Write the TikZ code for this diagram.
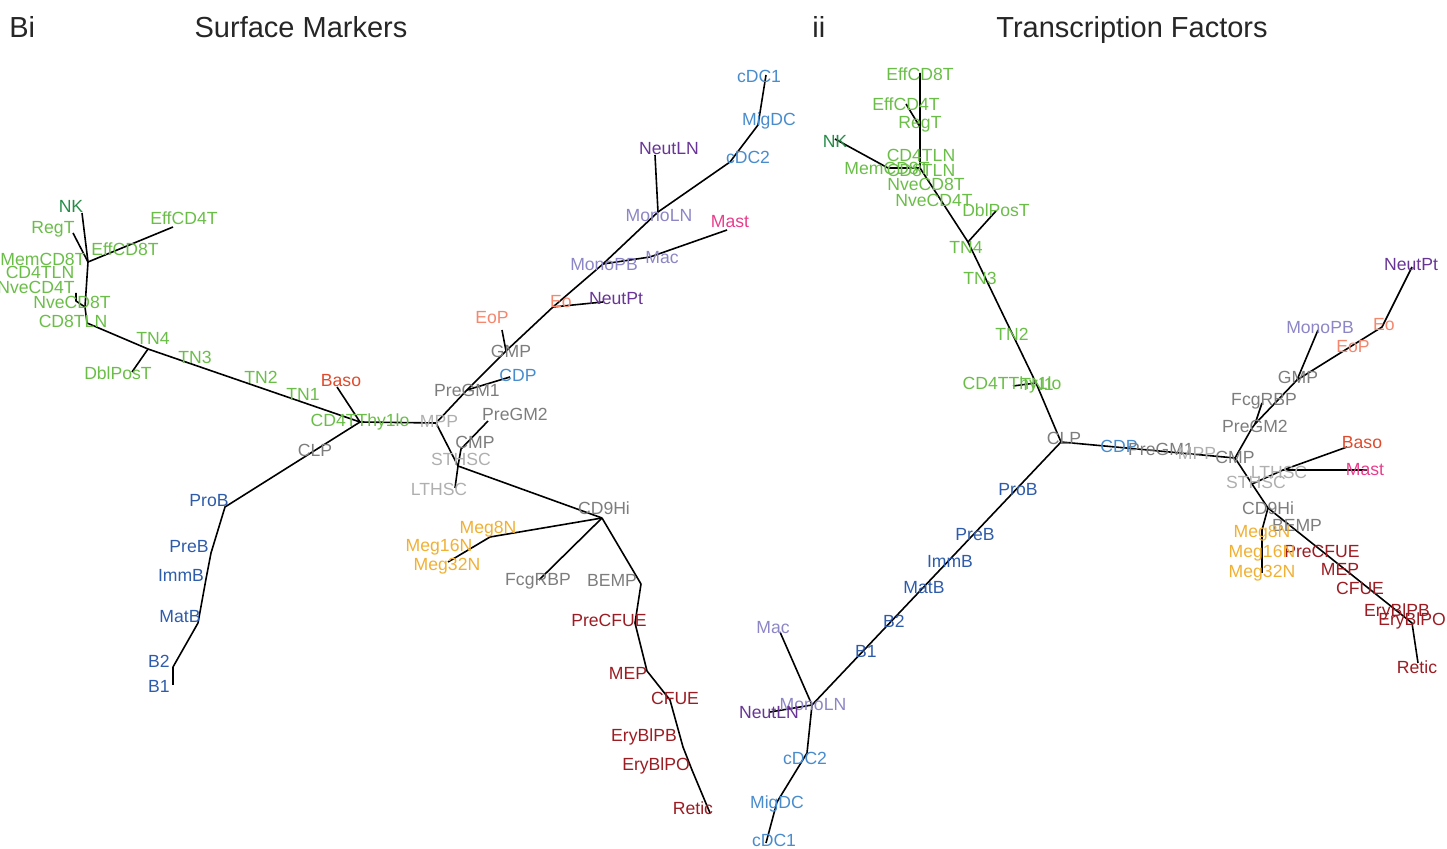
\documentclass[tikz,border=0pt]{standalone}
\usepackage{fontspec}
\setmainfont{Liberation Sans}
\definecolor{tgreen}{RGB}{106,190,72}
\definecolor{nkgreen}{RGB}{38,140,72}
\definecolor{bblue}{RGB}{46,92,170}
\definecolor{dcblue}{RGB}{72,140,205}
\definecolor{npurple}{RGB}{104,52,150}
\definecolor{mlav}{RGB}{140,134,198}
\definecolor{mastpink}{RGB}{232,62,140}
\definecolor{eosal}{RGB}{244,135,110}
\definecolor{basored}{RGB}{224,74,44}
\definecolor{pgray}{RGB}{125,125,125}
\definecolor{hgray}{RGB}{175,175,175}
\definecolor{megor}{RGB}{240,176,52}
\definecolor{eryred}{RGB}{155,28,34}
\begin{document}
\begin{tikzpicture}[x=0.5pt,y=-0.5pt,
  lbl/.style={inner sep=0pt, font=\fontsize{8.8}{10}\selectfont},
  ttl/.style={inner sep=0pt, font=\fontsize{14.5}{16}\selectfont, text=black!85},
  edge/.style={line width=0.8pt, black, line join=round}]
\useasboundingbox (0,0) rectangle (1447,849);

% ---------- titles ----------
\node[ttl, anchor=base west] (tBi) at (9,38) {Bi};
\node[ttl, anchor=base] (tSM) at (301,38) {Surface Markers};
\node[ttl, anchor=base west] (tii) at (812,38) {ii};
\node[ttl, anchor=base] (tTF) at (1132,38) {Transcription Factors};

% ---------- left tree coordinates ----------
\coordinate (Lthy) at (360,422);
\coordinate (Lmpp) at (436,423);
\coordinate (Lst) at (458,466);
\coordinate (Llt) at (455,488);
\coordinate (Lcmp) at (461,449);
\coordinate (Lpgm2) at (488,421);
\coordinate (Lcd9) at (602,518);
\coordinate (Lmeg8) at (490,537);
\coordinate (Lmeg32) at (448,562);
\coordinate (Lfcg) at (539,580);
\coordinate (Lbemp) at (641,584);
\coordinate (Lprecfue) at (635,623);
\coordinate (Lmep) at (647,671);
\coordinate (Lcfue) at (670,700);
\coordinate (Lerypb) at (683,747);
\coordinate (Lerypo) at (692,770);
\coordinate (Lretic) at (710,813);
\coordinate (Lpgm1) at (467,390);
\coordinate (Lcdp) at (510,377);
\coordinate (Lgmp) at (506,351);
\coordinate (Leop) at (502,330);
\coordinate (Leo) at (553,307);
\coordinate (Lneutpt) at (603,302);
\coordinate (Lmonopb) at (603,264);
\coordinate (Lmac) at (650,257);
\coordinate (Lmast) at (727,230);
\coordinate (Lmonoln) at (658,212);
\coordinate (Lneutln) at (655,155);
\coordinate (Lcdc2) at (730,162);
\coordinate (Lmigdc) at (758,125);
\coordinate (Lcdc1) at (766,75);
\coordinate (Lcd8) at (87,323);
\coordinate (Ltn4) at (148,349);
\coordinate (Ldbl) at (132,372);
\coordinate (Lnve) at (85,307);
\coordinate (Lnve2) at (76,301);
\coordinate (Lnve3) at (76,293);
\coordinate (Ltop) at (88,262);
\coordinate (Leffcd4) at (173,227);
\coordinate (Lregt) at (73,233);
\coordinate (Lnk) at (82,213);
\coordinate (Lbaso) at (337,387);
\coordinate (Lprob) at (225,507);
\coordinate (Lpreb) at (211,553);
\coordinate (Limmb) at (206,579);
\coordinate (Lmatb) at (198,623);
\coordinate (Lb2) at (173,667);
\coordinate (Lb1) at (173,685);

% ---------- left tree edges ----------
\draw[edge] (Lthy) -- (Lmpp) -- (Lst) -- (Lcd9);
\draw[edge] (Lst) -- (Llt);
\draw[edge] (Lst) -- (Lcmp) -- (Lpgm2);
\draw[edge] (Lcd9) -- (Lmeg8) -- (Lmeg32);
\draw[edge] (Lcd9) -- (Lfcg);
\draw[edge] (Lcd9) -- (Lbemp) -- (Lprecfue) -- (Lmep) -- (Lcfue) -- (Lerypb) -- (Lerypo) -- (Lretic);
\draw[edge] (Lmpp) -- (Lpgm1) -- (Lgmp) -- (Leo) -- (Lmonopb) -- (Lmonoln) -- (Lcdc2) -- (Lmigdc) -- (Lcdc1);
\draw[edge] (Lpgm1) -- (Lcdp);
\draw[edge] (Lgmp) -- (Leop);
\draw[edge] (Leo) -- (Lneutpt);
\draw[edge] (Lmonopb) -- (Lmac) -- (Lmast);
\draw[edge] (Lmonoln) -- (Lneutln);
\draw[edge] (Lthy) -- (Lbaso);
\draw[edge] (Lthy) -- (Ltn4) -- (Lcd8) -- (Lnve) -- (Ltop);
\draw[edge] (Ltn4) -- (Ldbl);
\draw[edge] (Lnve) -- (Lnve2) -- (Lnve3);
\draw[edge] (Ltop) -- (Leffcd4);
\draw[edge] (Ltop) -- (Lregt);
\draw[edge] (Ltop) -- (Lnk);
\draw[edge] (Lthy) -- (Lprob) -- (Lpreb) -- (Limmb) -- (Lmatb) -- (Lb2) -- (Lb1);

% ---------- left tree labels ----------
\node[lbl, text=pgray] (lCD9Hi) at (604,508) {CD9Hi};
\node[lbl, text=megor] (lMeg8N) at (488,529) {Meg8N};
\node[lbl, text=megor] (lMeg16N) at (439,547) {Meg16N};
\node[lbl, text=megor] (lMeg32N) at (447,566) {Meg32N};
\node[lbl, text=pgray] (lFcgRBP) at (538,581) {FcgRBP};
\node[lbl, text=pgray] (lBEMP) at (612,580) {BEMP};
\node[lbl, text=eryred] (lPreCFUE) at (609,620) {PreCFUE};
\node[lbl, text=eryred] (lMEP) at (628,673) {MEP};
\node[lbl, text=eryred] (lCFUE) at (675,698) {CFUE};
\node[lbl, text=eryred] (lEryBlPB) at (644,737) {EryBlPB};
\node[lbl, text=eryred] (lEryBlPO) at (656,766) {EryBlPO};
\node[lbl, text=eryred] (lRetic) at (693,808) {Retic};
\node[lbl, text=hgray] (lLTHSC) at (439,489) {LTHSC};
\node[lbl, text=hgray] (lSTHSC) at (461,459) {STHSC};
\node[lbl, text=pgray] (lCMP) at (475,442) {CMP};
\node[lbl, text=pgray] (lPreGM2) at (515,414) {PreGM2};
\node[lbl, text=hgray] (lMPP) at (439,421) {MPP};
\node[lbl, text=pgray] (lPreGM1) at (467,390) {PreGM1};
\node[lbl, text=dcblue] (lCDP) at (518,375) {CDP};
\node[lbl, text=pgray] (lGMP) at (511,351) {GMP};
\node[lbl, text=eosal] (lEoP) at (492,318) {EoP};
\node[lbl, text=eosal] (lEo) at (561,302) {Eo};
\node[lbl, text=npurple] (lNeutPt) at (616,299) {NeutPt};
\node[lbl, text=mlav] (lMonoPB) at (604,265) {MonoPB};
\node[lbl, text=mlav] (lMac) at (662,258) {Mac};
\node[lbl, text=mastpink] (lMast) at (730,222) {Mast};
\node[lbl, text=mlav] (lMonoLN) at (659,216) {MonoLN};
\node[lbl, text=npurple] (lNeutLN) at (669,149) {NeutLN};
\node[lbl, text=dcblue] (lcDC2) at (748,157) {cDC2};
\node[lbl, text=dcblue] (lMigDC) at (769,121) {MigDC};
\node[lbl, text=dcblue] (lcDC1) at (759,76) {cDC1};
\node[lbl, text=basored] (lBaso) at (341,381) {Baso};
\node[lbl, text=tgreen] (lCD4TThy1lo) at (360,422) {CD4TThy1lo};
\node[lbl, text=pgray] (lCLP) at (315,450) {CLP};
\node[lbl, text=tgreen] (lTN1) at (303,394) {TN1};
\node[lbl, text=tgreen] (lTN2) at (261,377) {TN2};
\node[lbl, text=tgreen] (lTN3) at (195,357) {TN3};
\node[lbl, text=tgreen] (lTN4) at (153,338) {TN4};
\node[lbl, text=tgreen] (lDblPosT) at (118,373) {DblPosT};
\node[lbl, text=tgreen] (lCD8TLN) at (73,321) {CD8TLN};
\node[lbl, text=tgreen] (lNveCD8T) at (72,302) {NveCD8T};
\node[lbl, text=tgreen] (lNveCD4T) at (36,287) {NveCD4T};
\node[lbl, text=tgreen] (lCD4TLN) at (40,272) {CD4TLN};
\node[lbl, text=tgreen] (lMemCD8T) at (43,259) {MemCD8T};
\node[lbl, text=tgreen] (lEffCD8T) at (125,249) {EffCD8T};
\node[lbl, text=tgreen] (lRegT) at (53,229) {RegT};
\node[lbl, text=nkgreen] (lNK) at (71,206) {NK};
\node[lbl, text=tgreen] (lEffCD4T) at (184,218) {EffCD4T};
\node[lbl, text=bblue] (lProB) at (209,501) {ProB};
\node[lbl, text=bblue] (lPreB) at (189,547) {PreB};
\node[lbl, text=bblue] (lImmB) at (181,575) {ImmB};
\node[lbl, text=bblue] (lMatB) at (180,617) {MatB};
\node[lbl, text=bblue] (lB2) at (159,661) {B2};
\node[lbl, text=bblue] (lB1) at (159,686) {B1};

% ---------- right tree coordinates ----------
\coordinate (Rclp) at (1061,442);
\coordinate (Rtn4) at (968,242);
\coordinate (Rthyj) at (1036,383);
\coordinate (Rthy) at (1013,386);
\coordinate (Rtcl) at (920,168);
\coordinate (Rnkj) at (888,168);
\coordinate (Rnk) at (835,139);
\coordinate (Reffcd8) at (920,73);
\coordinate (Reffj) at (920,127);
\coordinate (Reffcd4) at (906,104);
\coordinate (Rdbl) at (996,211);
\coordinate (Rcmp) at (1235,458);
\coordinate (Rpgm2) at (1252,428);
\coordinate (Rfcgj) at (1255,424);
\coordinate (Rfcg) at (1262,403);
\coordinate (Rgmp) at (1297,380);
\coordinate (Rmonopb) at (1318,330);
\coordinate (Reo) at (1382,327);
\coordinate (Rneutpt) at (1412,267);
\coordinate (Rltj) at (1252,484);
\coordinate (Rlt) at (1283,470);
\coordinate (Rbaso) at (1347,447);
\coordinate (Rmast) at (1367,470);
\coordinate (Rcd9) at (1268,508);
\coordinate (Rmegj) at (1262,530);
\coordinate (Rmeg32) at (1262,573);
\coordinate (Rerypo) at (1412,623);
\coordinate (Rretic) at (1418,663);
\coordinate (Rmonoln) at (812,705);
\coordinate (Rmac) at (780,632);
\coordinate (Rneutln) at (770,712);
\coordinate (Rcdc2) at (807,753);
\coordinate (Rmigdc) at (777,802);
\coordinate (Rcdc1) at (766,843);

% ---------- right tree edges ----------
\draw[edge] (Rclp) -- (Rthyj) -- (Rtn4) -- (Rtcl) -- (Reffj) -- (Reffcd8);
\draw[edge] (Rthyj) -- (Rthy);
\draw[edge] (Rtn4) -- (Rdbl);
\draw[edge] (Rtcl) -- (Rnkj) -- (Rnk);
\draw[edge] (Reffj) -- (Reffcd4);
\draw[edge] (Rclp) -- (Rcmp) -- (Rpgm2) -- (Rfcgj) -- (Rgmp) -- (Reo) -- (Rneutpt);
\draw[edge] (Rfcgj) -- (Rfcg);
\draw[edge] (Rgmp) -- (Rmonopb);
\draw[edge] (Rcmp) -- (Rltj) -- (Rcd9) -- (Rerypo) -- (Rretic);
\draw[edge] (Rltj) -- (Rlt) -- (Rbaso);
\draw[edge] (Rlt) -- (Rmast);
\draw[edge] (Rcd9) -- (Rmegj) -- (Rmeg32);
\draw[edge] (Rclp) -- (Rmonoln) -- (Rcdc2) -- (Rmigdc) -- (Rcdc1);
\draw[edge] (Rmonoln) -- (Rmac);
\draw[edge] (Rmonoln) -- (Rneutln);

% ---------- right tree labels ----------
\node[lbl, text=tgreen] (rEffCD8T) at (920,74) {EffCD8T};
\node[lbl, text=tgreen] (rEffCD4T) at (906,104) {EffCD4T};
\node[lbl, text=tgreen] (rRegT) at (920,124) {RegT};
\node[lbl, text=nkgreen] (rNK) at (835,141) {NK};
\node[lbl, text=tgreen] (rCD4TLN) at (921,155) {CD4TLN};
\node[lbl, text=tgreen] (rMemCD8T) at (887,168) {MemCD8T};
\node[lbl, text=tgreen] (rCD8TLN) at (921,170) {CD8TLN};
\node[lbl, text=tgreen] (rNveCD8T) at (926,184) {NveCD8T};
\node[lbl, text=tgreen] (rNveCD4T) at (934,200) {NveCD4T};
\node[lbl, text=tgreen] (rDblPosT) at (996,210) {DblPosT};
\node[lbl, text=tgreen] (rTN4) at (966,247) {TN4};
\node[lbl, text=tgreen] (rTN3) at (980,278) {TN3};
\node[lbl, text=tgreen] (rTN2) at (1012,334) {TN2};
\node[lbl, text=tgreen] (rTN1) at (1037,384) {TN1};
\node[lbl, text=tgreen] (rCD4TThy1lo) at (1012,385) {CD4TThy1lo};
\node[lbl, text=pgray] (rCLP) at (1064,438) {CLP};
\node[lbl, text=dcblue] (rCDP) at (1119,446) {CDP};
\node[lbl, text=pgray] (rPreGM1) at (1161,449) {PreGM1};
\node[lbl, text=hgray] (rMPP) at (1197,453) {MPP};
\node[lbl, text=pgray] (rCMP) at (1235,457) {CMP};
\node[lbl, text=bblue] (rProB) at (1018,490) {ProB};
\node[lbl, text=bblue] (rPreB) at (975,535) {PreB};
\node[lbl, text=bblue] (rImmB) at (950,561) {ImmB};
\node[lbl, text=bblue] (rMatB) at (924,588) {MatB};
\node[lbl, text=bblue] (rB2) at (894,621) {B2};
\node[lbl, text=bblue] (rB1) at (866,651) {B1};
\node[lbl, text=mlav] (rMac) at (773,628) {Mac};
\node[lbl, text=mlav] (rMonoLN) at (813,705) {MonoLN};
\node[lbl, text=npurple] (rNeutLN) at (769,713) {NeutLN};
\node[lbl, text=dcblue] (rcDC2) at (805,758) {cDC2};
\node[lbl, text=dcblue] (rMigDC) at (777,804) {MigDC};
\node[lbl, text=dcblue] (rcDC1) at (774,840) {cDC1};
\node[lbl, text=npurple] (rNeutPt) at (1411,265) {NeutPt};
\node[lbl, text=mlav] (rMonoPB) at (1320,328) {MonoPB};
\node[lbl, text=eosal] (rEo) at (1384,325) {Eo};
\node[lbl, text=eosal] (rEoP) at (1353,347) {EoP};
\node[lbl, text=pgray] (rGMP) at (1298,377) {GMP};
\node[lbl, text=pgray] (rFcgRBP) at (1264,401) {FcgRBP};
\node[lbl, text=pgray] (rPreGM2) at (1255,426) {PreGM2};
\node[lbl, text=basored] (rBaso) at (1362,443) {Baso};
\node[lbl, text=mastpink] (rMast) at (1365,470) {Mast};
\node[lbl, text=hgray] (rLTHSC) at (1279,472) {LTHSC};
\node[lbl, text=hgray] (rSTHSC) at (1256,482) {STHSC};
\node[lbl, text=pgray] (rCD9Hi) at (1268,508) {CD9Hi};
\node[lbl, text=pgray] (rBEMP) at (1297,525) {BEMP};
\node[lbl, text=megor] (rMeg8N) at (1262,533) {Meg8N};
\node[lbl, text=eryred] (rPreCFUE) at (1322,551) {PreCFUE};
\node[lbl, text=megor] (rMeg16N) at (1262,553) {Meg16N};
\node[lbl, text=eryred] (rMEP) at (1340,569) {MEP};
\node[lbl, text=megor] (rMeg32N) at (1262,573) {Meg32N};
\node[lbl, text=eryred] (rCFUE) at (1360,588) {CFUE};
\node[lbl, text=eryred] (rEryBlPB) at (1397,612) {EryBlPB};
\node[lbl, text=eryred] (rEryBlPO) at (1412,621) {EryBlPO};
\node[lbl, text=eryred] (rRetic) at (1417,667) {Retic};
\end{tikzpicture}
\end{document}
